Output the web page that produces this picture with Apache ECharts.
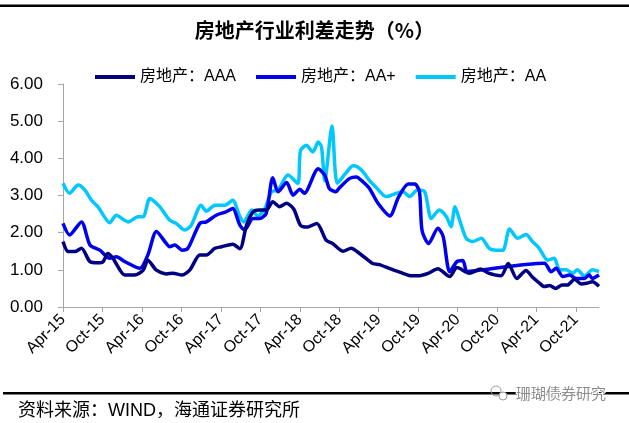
<!DOCTYPE html>
<html>
<head>
<meta charset="utf-8">
<script src="https://cdn.jsdelivr.net/npm/echarts@6/dist/echarts.min.js"></script>
<style>
html,body{margin:0;padding:0;background:#fff;}
#chart{width:629px;height:423px;}
</style>
</head>
<body>
<div id="chart"></div>
<script>
// x values: months since Apr-2015
const tickLabels = ['Apr-15','Oct-15','Apr-16','Oct-16','Apr-17','Oct-17','Apr-18','Oct-18','Apr-19','Oct-19','Apr-20','Oct-20','Apr-21','Oct-21'];
const seriesNames = ['房地产：AAA','房地产：AA+','房地产：AA'];

const aaaMonths = [0,0.8,1.8,2.8,4.1,5.3,6.1,6.8,7.6,9.4,10.9,12.2,12.9,14.2,15.7,16.7,18.1,19.3,20.8,21.8,23.1,24.1,25.8,26.9,27.9,28.9,29.9,30.9,31.9,32.9,34.0,35.1,36.1,37.1,38.6,40.0,41.0,42.6,43.8,45.1,47.1,48.1,49.6,51.3,53.0,54.2,55.6,57.0,58.8,59.9,61.8,63.5,64.7,66.6,67.7,69.0,70.4,71.4,72.4,73.2,74.0,74.9,75.9,76.7,77.8,78.8,79.6,80.5,81.5];
const aaaValues = [1.76,1.49,1.49,1.58,1.22,1.19,1.22,1.44,1.31,0.86,0.86,0.99,1.26,0.99,0.89,0.91,0.86,1.00,1.40,1.40,1.58,1.62,1.69,1.57,2.20,2.56,2.61,2.61,2.83,2.70,2.79,2.63,2.20,2.15,2.25,1.80,1.71,1.50,1.58,1.44,1.17,1.14,1.04,0.93,0.84,0.84,0.91,1.03,0.82,1.06,0.91,1.02,0.91,0.84,1.17,0.77,0.98,0.80,0.65,0.55,0.58,0.50,0.59,0.59,0.75,0.62,0.64,0.68,0.56];

const aapMonths = [0,1.0,2.8,4.1,5.6,7.1,8.1,9.4,11.7,12.9,14.2,15.7,16.2,17.0,18.1,19.0,20.8,21.8,23.3,24.8,25.8,26.9,27.6,28.9,29.9,30.9,31.9,32.7,34.0,35.0,36.0,36.7,38.8,39.8,40.5,41.5,42.0,43.6,44.6,45.6,46.6,47.9,49.7,51.0,52.5,53.5,54.2,54.6,55.6,57.0,57.8,58.8,59.9,60.8,61.4,62.3,73.2,74.2,75.0,76.0,77.0,78.0,79.3,80.0,80.5,81.5];
const aapValues = [2.25,1.94,2.29,1.67,1.53,1.31,1.35,1.22,1.04,1.40,2.03,1.71,1.62,1.67,1.53,1.58,2.25,2.29,2.47,2.56,2.65,2.20,2.07,2.38,2.38,2.52,3.48,3.10,3.35,3.01,3.17,3.06,3.72,3.55,3.19,3.10,3.20,3.46,3.50,3.37,3.19,2.79,2.45,2.95,3.31,3.31,3.10,2.05,1.71,2.12,1.90,0.95,1.22,1.25,0.95,0.97,1.18,0.95,1.04,0.82,0.86,0.77,0.77,0.86,0.77,0.86];

const aaMonths = [0,1.0,2.3,3.3,4.3,5.3,7.1,8.1,9.9,11.4,12.2,13.2,14.7,16.2,17.2,18.5,19.5,21.0,21.8,23.1,24.6,25.8,26.9,27.5,28.7,29.6,30.7,31.7,32.7,34.2,35.7,36.1,37.0,38.0,38.8,39.3,39.8,40.9,41.7,43.0,44.1,44.8,45.6,46.6,47.6,49.1,50.7,51.7,52.7,53.9,55.0,56.0,57.2,58.3,59.0,59.6,60.3,61.3,62.3,63.6,64.8,65.9,66.9,67.9,69.1,70.4,71.4,72.4,73.7,74.7,75.5,76.5,77.5,78.2,79.3,80.5,81.5];
const aaValues = [3.33,3.06,3.28,3.15,2.88,2.70,2.27,2.47,2.29,2.43,2.43,2.92,2.70,2.34,2.25,2.07,2.20,2.74,2.58,2.74,2.74,2.87,2.43,2.29,2.61,2.45,2.65,3.10,3.15,3.55,3.33,4.20,4.35,4.17,4.44,4.31,3.40,4.87,3.33,3.60,3.80,3.77,3.64,3.40,3.22,2.97,3.06,3.10,2.97,3.15,3.10,2.38,2.61,2.43,2.16,2.70,2.34,1.85,1.76,1.85,1.58,1.53,1.53,2.10,1.85,1.95,1.76,1.58,1.26,1.31,1.00,1.00,0.91,1.00,0.83,1.00,0.95];

const colors = ['#000080','#0000F0','#00C8FF'];
const zip = (xs, ys) => xs.map((x, i) => [x, ys[i]]);
const tickPositions = tickLabels.map((_, i) => i * 6);

const chart = echarts.init(document.getElementById('chart'), null, {renderer: 'canvas'});
const latin = 'Liberation Sans, Arial, Noto Sans CJK SC, sans-serif';
const mkSeries = (name, xs, ys, color, z) => ({
  name: name, type: 'line', data: zip(xs, ys), showSymbol: false, smooth: 0.25,
  lineStyle: {color: color, width: 3.5}, itemStyle: {color: color}, z: z, animation: false
});

chart.setOption({
  animation: false,
  title: {
    text: '房地产行业利差走势（%）', left: 'center', top: 15,
    textStyle: {fontFamily: 'Noto Sans CJK SC', fontWeight: 'bold', fontSize: 20, color: '#000'}
  },
  legend: {
    data: seriesNames, left: 90, top: 64, icon: 'rect', itemWidth: 40, itemHeight: 4, itemGap: 20,
    textStyle: {fontFamily: latin, fontSize: 16, color: '#000'}
  },
  grid: {left: 63, right: 30, top: 84, bottom: 116},
  xAxis: {
    type: 'value', min: 0, max: 81.5,
    axisLine: {show: true, lineStyle: {color: '#A6A6A6', width: 1}},
    axisTick: {show: true, length: 5, lineStyle: {color: '#A6A6A6'}, customValues: tickPositions},
    axisLabel: {
      customValues: tickPositions, rotate: 45, margin: 10,
      fontFamily: latin, fontSize: 16, color: '#000',
      formatter: v => tickLabels[Math.round(v / 6)] || ''
    },
    splitLine: {show: false}
  },
  yAxis: {
    type: 'value', min: 0, max: 6, interval: 1,
    axisLine: {show: true, lineStyle: {color: '#A6A6A6', width: 1}},
    axisTick: {show: true, length: 5, lineStyle: {color: '#A6A6A6'}},
    axisLabel: {margin: 20, fontFamily: latin, fontSize: 17, color: '#000', formatter: v => v.toFixed(2)},
    splitLine: {show: false}
  },
  series: [
    mkSeries(seriesNames[0], aaaMonths, aaaValues, colors[0], 4),
    mkSeries(seriesNames[1], aapMonths, aapValues, colors[1], 3),
    mkSeries(seriesNames[2], aaMonths, aaValues, colors[2], 2)
  ],
  graphic: [
    {type: 'rect', shape: {x: 0, y: 4.5, width: 629, height: 2.5}, style: {fill: '#000'}},
    {type: 'rect', shape: {x: 3, y: 392, width: 626, height: 2.5}, style: {fill: '#000'}},
    {type: 'text', x: 18, y: 411, style: {text: '资料来源：WIND，海通证券研究所', fontFamily: latin, fontSize: 18, fill: '#000', verticalAlign: 'middle'}},
    {type: 'circle', shape: {cx: 496, cy: 391, r: 5}, style: {fill: 'none', stroke: '#9a9a9a', lineWidth: 1}, z: 10},
    {type: 'circle', shape: {cx: 503, cy: 396, r: 4}, style: {fill: '#fff', stroke: '#9a9a9a', lineWidth: 1}, z: 10},
    {type: 'text', x: 516, y: 393, z: 10, style: {text: '珊瑚债券研究', fontFamily: 'Noto Sans CJK SC', fontSize: 15, fill: '#8c8c8c', verticalAlign: 'middle', stroke: '#fff', lineWidth: 2}}
  ]
});
</script>
</body>
</html>
